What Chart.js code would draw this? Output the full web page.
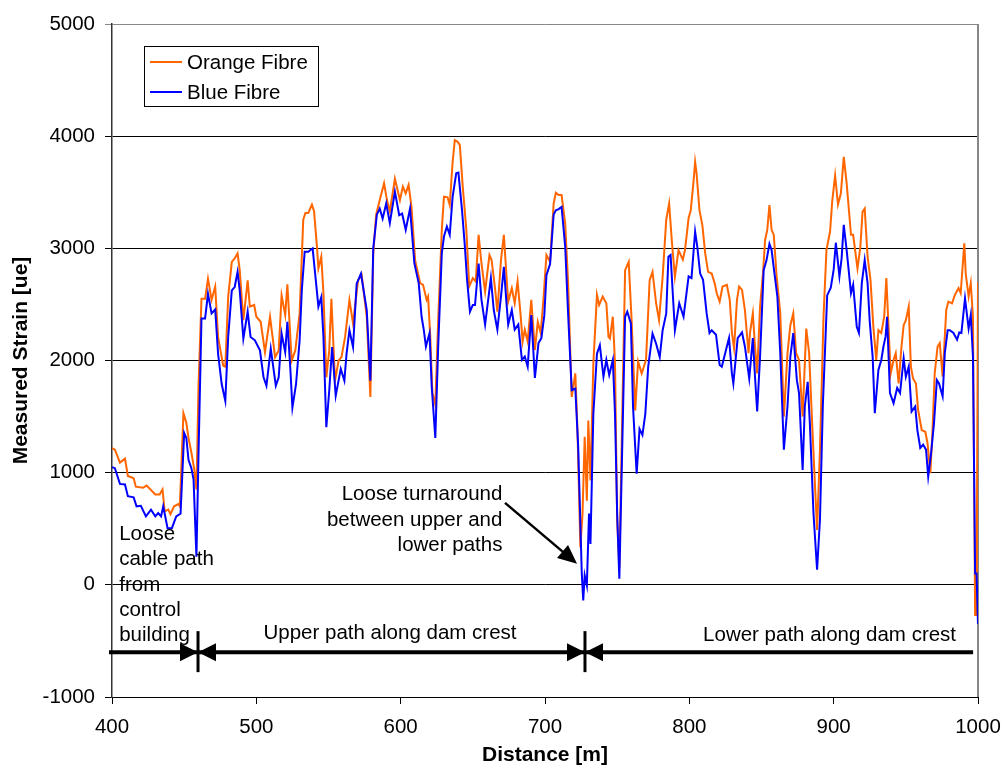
<!DOCTYPE html>
<html>
<head>
<meta charset="utf-8">
<script src="https://cdn.jsdelivr.net/npm/chart.js@4.4.1/dist/chart.umd.min.js"></script>
<style>
  html, body { margin: 0; padding: 0; background: #fff; }
  #wrap { width: 1002px; height: 774px; }
</style>
</head>
<body>
<div id="wrap"><canvas id="strainChart" width="1002" height="774"></canvas></div>
<script>
// distances [m] and measured strain [ue]
const orangeDist = [
  400, 402, 405.5, 409, 411, 415, 416.5, 421.5, 424, 430,
  433, 435, 436.5, 439, 440.5, 443, 446, 447, 449.5, 451.5,
  453, 455, 457, 458.5, 460, 462, 464.5, 466.5, 469, 471.5,
  473.5, 477, 478.5, 480.5, 483, 485, 487, 488.5, 491, 494,
  495.5, 498.5, 500, 503, 506, 509.5, 513, 515.5, 517.5, 520,
  521.5, 524.5, 527, 530, 532.5, 534, 536, 538.5, 540, 542,
  543, 545, 546.5, 548.5, 550.5, 552, 554.5, 557, 559, 561.5,
  564.5, 567, 570.5, 573, 576.5, 579, 581, 583, 585.5, 588.5,
  590.5, 592.5, 596, 599.5, 601.5, 603.5, 605.5, 607.5, 610, 613.5,
  615.5, 618, 619, 620.5, 622, 624, 626, 628.5, 630, 632.5,
  634, 636, 637.5, 639.5, 641, 643, 645.5, 647.5, 650, 652,
  654, 656, 658.5, 661.5, 663, 665.5, 667, 669.5, 671.5, 673.5,
  674.5, 677, 679, 681, 683, 684.5, 686, 688, 690.5, 693,
  695, 697, 699, 701, 703.5, 706, 707.5, 709.5, 711.5, 714,
  716, 718.5, 721, 722.5, 724.5, 726, 727.5, 729, 730, 731.5,
  733.5, 736, 737.5, 740, 742.5, 744, 745, 747, 748.5, 750,
  751.5, 754, 755.5, 758, 760, 762.5, 764.5, 767, 770, 772.5,
  774.5, 777, 779, 781.5, 784, 786, 788, 790, 792.5, 795.5,
  797, 799.5, 801, 803, 804, 805, 807, 809, 811, 813,
  815.5, 817.5, 819, 821, 823, 826, 828, 829.5, 831, 833,
  834.5, 836.5, 838.5, 841, 842, 844, 845.5, 847, 849, 851,
  852.5, 854, 855.5, 857, 858.5, 860.5, 863, 865.5, 868, 870,
  872, 874, 876, 878.5, 881, 883, 885.5, 888.5, 890.5, 893,
  895, 897.5, 899, 901, 903, 905, 907, 909, 912, 913.5,
  916.5, 918.5, 920, 921.5, 923.5, 925.5, 927.5, 929.5, 931, 933,
  935, 936.5, 938, 939.5, 941.5, 943, 945, 947, 948.5, 950,
  952, 953.5, 955, 957, 958.5, 961, 963.5, 965, 967, 968.5,
  970, 972, 973.5, 975.5, 978, 979.5, 982, 984, 986.5, 988,
  990.5, 991.5, 993.5, 995, 996.5, 998, 999, 1000
];
const orangeStrain = [
  1220, 1205, 1090, 1125, 970, 950, 875, 865, 885, 805,
  805, 850, 655, 670, 630, 700, 720, 700, 1530, 1445,
  1310, 1180, 1030, 850, 1800, 2550, 2550, 2730, 2540, 2660,
  2210, 1955, 1945, 2570, 2880, 2910, 2955, 2805, 2360, 2715,
  2480, 2495, 2390, 2345, 2075, 2390, 2030, 2090, 2580, 2405,
  2680, 2000, 2090, 2420, 3255, 3315, 3315, 3390, 3330, 3015,
  2820, 2925, 2600, 1850, 2090, 2550, 1820, 2000, 2030, 2210,
  2540, 2330, 2715, 2760, 2390, 1675, 2950, 3300, 3430, 3580,
  3430, 3330, 3620, 3430, 3550, 3490, 3565, 3370, 2895, 2690,
  2675, 2540, 2570, 2215, 1710, 1605, 2360, 3165, 3460, 3455,
  3385, 3770, 3965, 3950, 3920, 3550, 3165, 2660, 2735, 2705,
  3120, 2865, 2615, 2940, 2895, 2630, 2435, 2895, 3120, 2720,
  2525, 2645, 2510, 2705, 2420, 2170, 2275, 2170, 2540, 2095,
  2345, 2245, 2560, 2940, 2880, 3400, 3495, 3475, 3475, 3220,
  2700, 1675, 1885, 1380, 335, 635, 1320, 750, 1465, 930,
  1975, 2585, 2495, 2570, 2510, 2210, 2195, 2390, 1975, 575,
  150, 1825, 2805, 2880, 2360, 1555, 1990, 1885, 2005, 2715,
  2790, 2510, 2360, 2745, 3255, 3400, 3045, 2745, 2985, 2900,
  2985, 3270, 3340, 3610, 3770, 3670, 3340, 3210, 2955, 2790,
  2775, 2690, 2600, 2525, 2660, 2675, 2540, 2245, 2110, 2540,
  2660, 2630, 2450, 2065, 2245, 2420, 2125, 1885, 2480, 2775,
  3075, 3165, 3385, 3165, 3120, 2750, 2420, 1500, 2065, 2315,
  2420, 2065, 2005, 1500, 2285, 2065, 1320, 490, 1200, 2400,
  2985, 3150, 3420, 3650, 3390, 3490, 3815, 3580, 3120, 3120,
  2820, 3015, 3325, 3355, 2925, 2720, 2300, 2005, 2270, 2245,
  2390, 2735, 2300, 1885, 2005, 2065, 1795, 2125, 2315, 2360,
  2480, 1945, 1840, 1795, 1560, 1380, 1365, 1265, 995, 1380,
  1885, 2125, 2155, 1855, 2450, 2525, 2510, 2585, 2645, 2600,
  3045, 2775, 2570, 2690, 2390, -270, -270, 2700
];
const blueDist = [
  400, 402, 405.5, 409, 411, 415, 417, 420, 423.5, 427,
  430, 432, 434, 435.5, 438.5, 441.5, 444.5, 447.5, 450, 451.5,
  453, 455, 456.5, 458.5, 460, 462, 464.5, 466.5, 469, 471.5,
  473.5, 476, 478.5, 480.5, 483, 485, 487, 488.5, 491, 494,
  496, 499, 502.5, 505, 507, 510, 513.5, 515.5, 517.5, 520,
  521.5, 523.5, 525, 527.5, 530, 531.5, 533.5, 536, 539, 540.5,
  543, 545, 546.5, 548.5, 550.5, 552.5, 555, 558.5, 561, 562.5,
  564.5, 567, 569.5, 572.5, 576.5, 579, 581, 583.5, 585.5, 587.5,
  590, 592.5, 596, 599, 601, 603.5, 606.5, 609.5, 612.5, 614.5,
  616, 617.5, 620, 621.5, 624, 626, 628.5, 630, 632, 634,
  636, 638.5, 640, 642.5, 644.5, 646, 648, 650, 651.5, 654,
  656, 658.5, 662.5, 664.5, 667, 669.5, 671.5, 673.5, 674.5, 677,
  679, 681.5, 684, 686, 688, 690.5, 693, 695.5, 697.5, 699.5,
  701, 703.5, 706, 707.5, 709.5, 711.5, 714, 716, 718.5, 721,
  723, 725.5, 726.5, 727.5, 729, 730.5, 731.5, 733.5, 736, 738,
  740.5, 742.5, 744.5, 747, 748.5, 750, 751.5, 753, 755.5, 757,
  759.5, 761, 763.5, 765.5, 767.5, 769.5, 771.5, 774.5, 777, 779.5,
  781.5, 784, 785.5, 787, 790, 793, 796, 799.5, 801.5, 804,
  805.5, 807.5, 809.5, 812, 814, 815.5, 818.5, 821, 822.5, 826,
  827.5, 829.5, 830.5, 833.5, 836.5, 838.5, 841.5, 844, 845.5, 847,
  849, 851.5, 853.5, 855.5, 857, 859, 861, 863, 865.5, 868,
  870, 872, 874.5, 876, 878.5, 880, 882, 883.5, 886, 888.5,
  890.5, 892.5, 895.5, 898, 900, 901.5, 904, 905.5, 907, 909,
  912, 913.5, 916, 917.5, 919.5, 921.5, 923.5, 925, 927, 928.5,
  931, 933, 934.5, 936, 937, 939, 941.5, 944, 946, 948.5,
  950, 952, 954, 956.5, 958, 960, 962, 964, 965.5, 967.5,
  969.5, 971.5, 973, 975.5, 977, 979, 980.5, 983, 985.5, 987,
  988.5, 991, 993.5, 995, 996.5, 998, 999, 1000
];
const blueStrain = [
  1050, 1040, 900, 895, 790, 780, 700, 705, 610, 670,
  610, 640, 610, 700, 505, 505, 610, 635, 1355, 1310,
  1115, 1040, 940, 250, 1200, 2375, 2375, 2595, 2420, 2455,
  2060, 1790, 1640, 2210, 2625, 2655, 2790, 2625, 2195, 2435,
  2210, 2180, 2090, 1850, 1775, 2105, 1775, 1850, 2240, 2075,
  2345, 1940, 1580, 1790, 2180, 2625, 2970, 2970, 3000, 2805,
  2480, 2565, 2210, 1405, 1730, 2120, 1685, 1925, 1820, 2060,
  2270, 2120, 2685, 2775, 2450, 1820, 3000, 3300, 3355, 3265,
  3400, 3225, 3505, 3295, 3310, 3165, 3355, 2865, 2690, 2390,
  2275, 2125, 2245, 1770, 1310, 2125, 2955, 3105, 3195, 3120,
  3460, 3670, 3675, 3340, 3015, 2720, 2435, 2495, 2495, 2865,
  2540, 2320, 2735, 2450, 2275, 2570, 2835, 2480, 2320, 2450,
  2275, 2320, 2005, 2035, 1945, 2405, 1845, 2155, 2200, 2400,
  2760, 2860, 3300, 3340, 3350, 3370, 3015, 2420, 1735, 1750,
  1230, 95, -140, 85, -5, 635, 365, 1525, 2060, 2135,
  1855, 2005, 1870, 2005, 1525, 635, 55, 930, 2390, 2435,
  2330, 1585, 990, 1390, 1335, 1525, 1945, 2240, 2150, 2030,
  2270, 2420, 2925, 2940, 2270, 2510, 2390, 2750, 2735, 3150,
  3015, 2775, 2720, 2420, 2245, 2270, 2230, 1960, 1945, 2125,
  2200, 1885, 1795, 2200, 2250, 2125, 1840, 2200, 1855, 1545,
  2035, 2805, 2895, 3040, 2985, 2775, 2570, 2065, 1205, 1590,
  2035, 2245, 1825, 1710, 1025, 1590, 1810, 1440, 640, 135,
  580, 1600, 2580, 2650, 2810, 3050, 2750, 2910, 3210, 2985,
  2600, 2675, 2300, 2245, 2690, 2895, 2690, 2345, 2035, 1530,
  1915, 2005, 2125, 2215, 2390, 1710, 1620, 1755, 1710, 2020,
  1855, 1945, 1545, 1590, 1380, 1220, 1250, 1205, 965, 1175,
  1440, 1825, 1795, 1680, 2065, 2270, 2270, 2245, 2185, 2250,
  2245, 2555, 2285, 2405, 2035, 100, 100, -350
];

const seriesLabels = ["Orange Fibre", "Blue Fibre"];
const seriesColors = ["#ff6600", "#0000ff"];
const xTicks = [400, 500, 600, 700, 800, 900, 1000];
const yTicks = [-1000, 0, 1000, 2000, 3000, 4000, 5000];

// section markers along the cable (m) and the level of the marker line (ue)
const sectionBreaks = [459.6, 727.7];
const sectionLineY = -600;

const FONT = "'Liberation Sans', Arial, sans-serif";

function pairUp(xs, ys) {
  return xs.map((x, i) => ({ x: x, y: ys[i] }));
}

function arrowHead(ctx, tipX, tipY, angle, len, half) {
  ctx.beginPath();
  ctx.moveTo(tipX, tipY);
  ctx.lineTo(tipX - len * Math.cos(angle) + half * Math.sin(angle),
             tipY - len * Math.sin(angle) - half * Math.cos(angle));
  ctx.lineTo(tipX - len * Math.cos(angle) - half * Math.sin(angle),
             tipY - len * Math.sin(angle) + half * Math.cos(angle));
  ctx.closePath();
  ctx.fill();
}

const frame = {
  id: "frame",
  beforeDatasetsDraw(chart) {
    const a = chart.chartArea;
    const ctx = chart.ctx;
    ctx.save();
    ctx.strokeStyle = "#888";
    ctx.lineWidth = 2;
    ctx.beginPath();
    ctx.moveTo(a.right, a.top);
    ctx.lineTo(a.right, a.bottom);
    ctx.stroke();
    ctx.restore();
  }
};

const notes = {
  id: "notes",
  afterDatasetsDraw(chart) {
    const ctx = chart.ctx;
    const xs = chart.scales.x;
    const ys = chart.scales.y;
    const a = chart.chartArea;
    const px = v => xs.getPixelForValue(v);
    const py = v => ys.getPixelForValue(v);

    ctx.save();
    ctx.fillStyle = "#000";
    ctx.strokeStyle = "#000";
    ctx.font = "20.5px " + FONT;
    ctx.textBaseline = "alphabetic";

    // left note
    ctx.textAlign = "left";
    ["Loose", "cable path", "from", "control", "building"].forEach((t, i) => {
      ctx.fillText(t, px(405), py(400) + i * 25.3);
    });

    // turnaround note
    ctx.textAlign = "right";
    ["Loose turnaround", "between upper and", "lower paths"].forEach((t, i) => {
      ctx.fillText(t, px(670.5), py(752) + i * 25.3);
    });

    // arrow to turnaround
    const ax0 = px(672.3), ay0 = py(731), ax1 = px(722.2), ay1 = py(187);
    const ang = Math.atan2(ay1 - ay0, ax1 - ax0);
    ctx.lineWidth = 2.5;
    ctx.beginPath();
    ctx.moveTo(ax0, ay0);
    ctx.lineTo(ax1 - 15 * Math.cos(ang), ay1 - 15 * Math.sin(ang));
    ctx.stroke();
    arrowHead(ctx, ax1, ay1, ang, 19, 8.5);

    // section labels
    ctx.textAlign = "center";
    ctx.fillText("Upper path along dam crest", px(592.6), py(-485));
    ctx.textAlign = "right";
    ctx.fillText("Lower path along dam crest", px(984.8), py(-505));

    // section marker line
    const ly = py(sectionLineY);
    ctx.lineWidth = 4;
    ctx.beginPath();
    ctx.moveTo(a.left - 3, ly);
    ctx.lineTo(px(996.6), ly);
    ctx.stroke();
    sectionBreaks.forEach(d => {
      const bx = px(d);
      ctx.lineWidth = 3;
      ctx.beginPath();
      ctx.moveTo(bx, ly - 21);
      ctx.lineTo(bx, ly + 20);
      ctx.stroke();
      arrowHead(ctx, bx, ly, 0, 18, 9);
      arrowHead(ctx, bx, ly, Math.PI, 18, 9);
    });

    // legend
    const lx = a.left + 32, lt = a.top + 22;
    ctx.fillStyle = "#fff";
    ctx.fillRect(lx, lt, 174, 61);
    ctx.lineWidth = 1;
    ctx.strokeStyle = "#000";
    ctx.strokeRect(lx + 0.5, lt + 0.5, 174, 60);
    ctx.textAlign = "left";
    ctx.textBaseline = "middle";
    chart.data.datasets.forEach((ds, i) => {
      const yy = lt + 16 + i * 30;
      ctx.strokeStyle = ds.borderColor;
      ctx.lineWidth = 2;
      ctx.beginPath();
      ctx.moveTo(lx + 6, yy);
      ctx.lineTo(lx + 38, yy);
      ctx.stroke();
      ctx.fillStyle = "#000";
      ctx.fillText(ds.label, lx + 43, yy + 1);
    });
    ctx.restore();
  }
};

Chart.defaults.font.family = FONT;
Chart.defaults.font.size = 20.5;
Chart.defaults.color = "#000";

new Chart(document.getElementById("strainChart"), {
  type: "line",
  data: {
    datasets: [
      {
        label: seriesLabels[0],
        data: pairUp(orangeDist, orangeStrain),
        borderColor: seriesColors[0],
        borderWidth: 2,
        pointRadius: 0,
        tension: 0,
        order: 1
      },
      {
        label: seriesLabels[1],
        data: pairUp(blueDist, blueStrain),
        borderColor: seriesColors[1],
        borderWidth: 2,
        pointRadius: 0,
        tension: 0,
        order: 0
      }
    ]
  },
  options: {
    responsive: false,
    animation: false,
    layout: { padding: { left: 0, right: 24, top: 24, bottom: 0 } },
    plugins: {
      legend: { display: false },
      tooltip: { enabled: false }
    },
    scales: {
      x: {
        type: "linear",
        min: 400,
        max: 1000,
        afterBuildTicks: s => { s.ticks = xTicks.map(v => ({ value: v })); },
        afterFit: s => {
          s.height = 77;
          // keep the plot edge where the original has it
          s.paddingLeft = 0;
          s.paddingRight = 0;
        },
        ticks: { padding: 11, maxRotation: 0, autoSkip: false, callback: v => String(v) },
        grid: { drawOnChartArea: false, drawTicks: true, tickLength: 7, color: "#000" },
        border: { display: true, color: "#000", width: 1 },
        title: {
          display: true,
          text: "Distance [m]",
          font: { size: 21, weight: "bold" },
          padding: { top: 0, bottom: 6 }
        }
      },
      y: {
        min: -1000,
        max: 5000,
        afterBuildTicks: s => { s.ticks = yTicks.map(v => ({ value: v })); },
        afterFit: s => { s.width = 112; },
        ticks: { padding: 10, callback: v => String(v) },
        grid: {
          drawOnChartArea: true,
          drawTicks: true,
          tickLength: 7,
          color: c => (c.tick && c.tick.value === 5000 ? "#888" : "#000"),
          lineWidth: 1
        },
        border: { display: true, color: "#333", width: 1.5 },
        title: {
          display: true,
          text: "Measured Strain [ue]",
          font: { size: 21, weight: "bold" },
          padding: { top: 9, bottom: 0 }
        }
      }
    }
  },
  plugins: [frame, notes]
});
</script>
</body>
</html>
